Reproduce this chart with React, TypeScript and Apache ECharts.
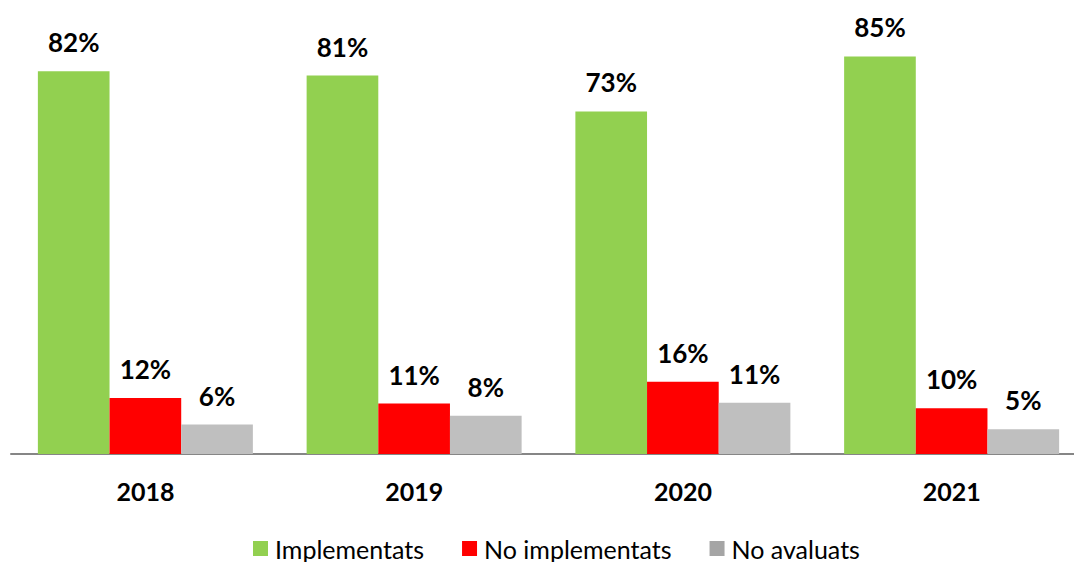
import React, { useEffect, useRef } from "react";
import * as echarts from "echarts";

const categories = ["2018", "2019", "2020", "2021"];
const implementats = [82, 81.1, 73.4, 85.2];
const noImplementats = [12, 10.8, 15.5, 9.8];
const noAvaluats = [6.3, 8.2, 11, 5.3];

const FONT = "Lato, 'Open Sans', sans-serif";

export default function App() {
  const ref = useRef<HTMLDivElement>(null);
  useEffect(() => {
    if (!ref.current) return;
    document.body.style.overflow = "hidden";
    const chart = echarts.init(ref.current, null, { renderer: "svg" });
    const label = {
      show: true,
      position: "top",
      distance: 16,
      fontFamily: FONT,
      fontWeight: "bold",
      fontSize: 26,
      color: "#000",
      formatter: (p: any) => Math.round(p.value) + "%",
    };
    chart.setOption({
      animation: false,
      backgroundColor: "#fff",
      grid: { left: 11, width: 1075, top: 34, height: 420 },
      legend: {
        left: 253,
        top: 536,
        padding: 0,
        itemWidth: 15,
        itemHeight: 15,
        itemGap: 38,
        icon: "rect",
        textStyle: { fontFamily: FONT, fontSize: 25, color: "#000", padding: [0, 0, 0, 2] },
        data: [
          { name: "Implementats", itemStyle: { color: "#92D050" } },
          { name: "No implementats", itemStyle: { color: "#FF0000" } },
          { name: "No avaluats", itemStyle: { color: "#A5A5A5" } },
        ],
      },
      xAxis: {
        type: "category",
        data: categories,
        axisLine: { show: true, lineStyle: { color: "#868686", width: 2 } },
        axisTick: { show: false },
        axisLabel: {
          margin: 24,
          fontFamily: FONT,
          fontWeight: "bold",
          fontSize: 25,
          color: "#000",
        },
      },
      yAxis: {
        type: "value",
        min: 0,
        max: 90,
        show: false,
        splitLine: { show: false },
      },
      series: [
        {
          name: "Implementats",
          type: "bar",
          data: implementats,
          barGap: "0%",
          barCategoryGap: "20%",
          itemStyle: { color: "#92D050" },
          label,
        },
        {
          name: "No implementats",
          type: "bar",
          data: noImplementats,
          itemStyle: { color: "#FF0000" },
          label,
        },
        {
          name: "No avaluats",
          type: "bar",
          data: noAvaluats,
          itemStyle: { color: "#BFBFBF" },
          label,
        },
      ],
    });
    return () => chart.dispose();
  }, []);
  return (
    <div
      ref={ref}
      style={{ position: "fixed", left: 0, top: 0, width: 1090, height: 562 }}
    />
  );
}
